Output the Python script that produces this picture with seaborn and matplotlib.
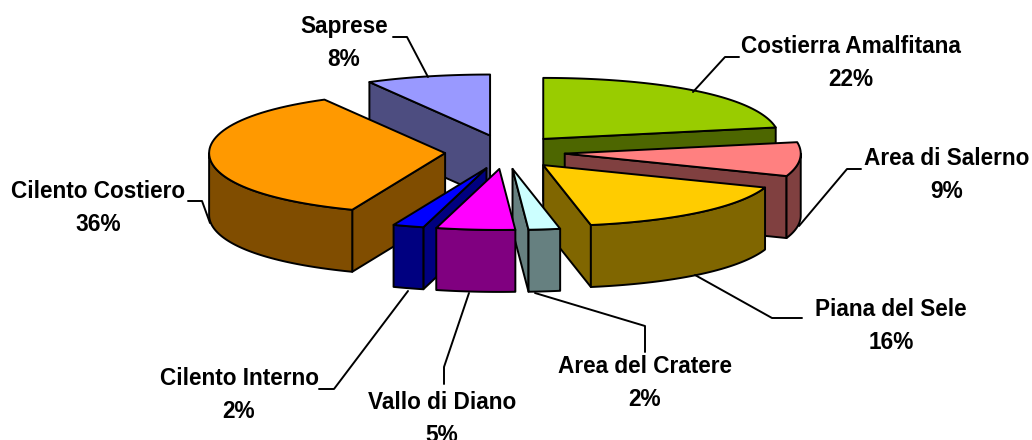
import numpy as np
import matplotlib
matplotlib.use('Agg')
import matplotlib.pyplot as plt
import seaborn as sns

# data, clockwise from 12 o'clock
zones = ['Costierra Amalfitana', 'Area di Salerno', 'Piana del Sele', 'Area del Cratere',
         'Vallo di Diano', 'Cilento Interno', 'Cilento Costiero', 'Saprese']
shares = [22, 9, 16, 2, 5, 2, 36, 8]
top_colors = ['#99CC00', '#FF8080', '#FFCC00', '#CCFFFF', '#FF00FF', '#0000FF', '#FF9900', '#9999FF']

# label centres and leader lines, in pixels
label_pos = [(851, 63), (947, 175), (891, 326), (645, 383), (442, 419), (239, 395), (98, 208), (344, 43)]
leaders = [
    [(739, 57), (725, 57), (693, 92)],
    [(861, 169), (847, 169), (799, 226)],
    [(802, 318), (772, 318), (695, 275)],
    [(645, 352), (645, 326), (535, 293)],
    [(444, 384), (444, 367), (469, 293)],
    [(319, 389), (334, 389), (408, 291)],
    [(188, 201), (202, 201), (210, 223)],
    [(393, 37), (407, 37), (428, 77)],
]

# pie geometry in pixels
CX, CY = 505, 152
RX, RY = 236, 61
EX, EY = 60, 17
DEPTH = 62
LW = 1.4

sns.set_theme(style='white')
plt.rcParams['font.family'] = ['Liberation Sans', 'DejaVu Sans']

fig, ax = plt.subplots(figsize=(10.32, 4.4), dpi=100)
ax.set_position([0, 0, 1, 1])
ax.set_xlim(0, 1032)
ax.set_ylim(440, 0)
ax.axis('off')


def arc_pts(apex, t1, t2):
    t = np.linspace(t1, t2, 60)
    persp = 1 + 0.08 * np.cos(t) ** 2
    return apex[0] + RX * persp * np.sin(t), apex[1] - RY * np.cos(t)


def draw_wall(xs, ys, color, z):
    wx = np.concatenate([xs, xs[::-1]])
    wy = np.concatenate([ys, ys[::-1] + DEPTH])
    ax.fill(wx, wy, facecolor=color, edgecolor='black', linewidth=LW, joinstyle='round', zorder=z)


edges = 2 * np.pi * np.cumsum([0] + shares) / sum(shares)
mids = (edges[:-1] + edges[1:]) / 2
order = np.argsort(-np.cos(mids))

for z, i in enumerate(order):
    t1, t2 = edges[i], edges[i + 1]
    apex = (CX + EX * np.sin(mids[i]), CY - EY * np.cos(mids[i]))
    ax_, ay_ = arc_pts(apex, t1, t2)
    top = sns.color_palette([top_colors[i]])[0]
    side = tuple(c * 0.5 for c in top)
    base = z * 10

    # cut faces, only those turned to the viewer
    if np.sin(t1) < -1e-6:
        draw_wall(np.array([apex[0], ax_[0]]), np.array([apex[1], ay_[0]]), side, base)
    if np.sin(t2) > 1e-6:
        draw_wall(np.array([apex[0], ax_[-1]]), np.array([apex[1], ay_[-1]]), side, base + 1)

    # rim, front half of the ellipse only
    lo, hi = max(t1, np.pi / 2), min(t2, 3 * np.pi / 2)
    if hi > lo:
        rx_, ry_ = arc_pts(apex, lo, hi)
        draw_wall(rx_, ry_, side, base + 2)

    ax.fill(np.r_[apex[0], ax_], np.r_[apex[1], ay_], facecolor=top, edgecolor='black',
            linewidth=LW, joinstyle='round', zorder=base + 3)

for name, share, (lx, ly), pts in zip(zones, shares, label_pos, leaders):
    ax.text(lx, ly, f'{name}\n{share}%', ha='center', va='center', fontsize=16.3,
            fontweight='bold', color='black', linespacing=1.55, zorder=200)
    px, py = zip(*pts)
    ax.plot(px, py, color='black', linewidth=LW, zorder=150)

fig.savefig('out.png', dpi=100, facecolor='white')
